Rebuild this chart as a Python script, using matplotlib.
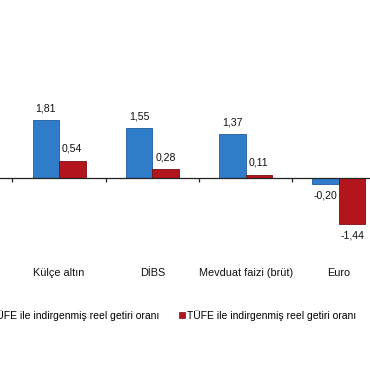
import numpy as np
import matplotlib
matplotlib.use('Agg')
import matplotlib.pyplot as plt
from matplotlib.patches import Patch

plt.rcParams['font.family'] = ['Liberation Sans', 'DejaVu Sans']

# Data
categories = ['Külçe altın', 'DİBS', 'Mevduat faizi (brüt)', 'Euro']
yiufe_real = [1.81, 1.55, 1.37, -0.20]
tufe_real = [0.54, 0.28, 0.11, -1.44]
series_names = ['Yİ-ÜFE ile indirgenmiş reel getiri oranı',
                'TÜFE ile indirgenmiş reel getiri oranı']

blue = '#2F7DC9'
red = '#B2161C'

fig = plt.figure(figsize=(3.7, 3.8), dpi=100)
# axes deliberately wider than the figure (chart is cropped at both sides)
ax = fig.add_axes([-0.0927, 0.321, 1.16, 0.463])

x = np.arange(len(categories))
w = 0.284
b1 = ax.bar(x - w / 2, yiufe_real, w, color=blue, edgecolor='#1F5C99', linewidth=0.6, zorder=2)
b2 = ax.bar(x + w / 2, tufe_real, w, color=red, edgecolor='#7A0E12', linewidth=0.6, zorder=2)

def fmt(v):
    return f'{v:.2f}'.replace('.', ',')

for bars, vals in [(b1, yiufe_real), (b2, tufe_real)]:
    for rect, v in zip(bars, vals):
        cx = rect.get_x() + rect.get_width() / 2
        off = 8.5 if v >= 0 else -8
        ax.annotate(fmt(v), (cx, v), xytext=(0, off), textcoords='offset points',
                    ha='center', va='center', fontsize=7.6, color='#111111')

ax.set_xlim(-1.0, 3.6)
ax.set_ylim(-2.5, 3.0)

for s in ['top', 'right', 'left']:
    ax.spines[s].set_visible(False)
ax.spines['bottom'].set_position(('data', 0))
ax.spines['bottom'].set_color('#222222')
ax.spines['bottom'].set_linewidth(0.9)
ax.set_yticks([])
ax.set_xticks(np.arange(-0.5, 4.0, 1.0))
ax.set_xticklabels([])
ax.tick_params(axis='x', direction='out', length=3, width=0.9, color='#222222')

# category labels, placed low below the chart
for xi, name in zip(x, categories):
    ax.text(xi, -2.97, name, ha='center', va='center', fontsize=7.8, color='#111111')

handles = [Patch(facecolor=blue, edgecolor='#1F5C99', linewidth=0.5),
           Patch(facecolor=red, edgecolor='#7A0E12', linewidth=0.5)]
fig.legend(handles, series_names, loc='center right', bbox_to_anchor=(360 / 370, 1 - 315 / 380),
           ncol=2, frameon=False, fontsize=7.5, handlelength=0.5, handleheight=0.5,
           handletextpad=0.2, columnspacing=1.9, borderpad=0.4, borderaxespad=0)

fig.savefig('out.png', dpi=100, facecolor='white')
